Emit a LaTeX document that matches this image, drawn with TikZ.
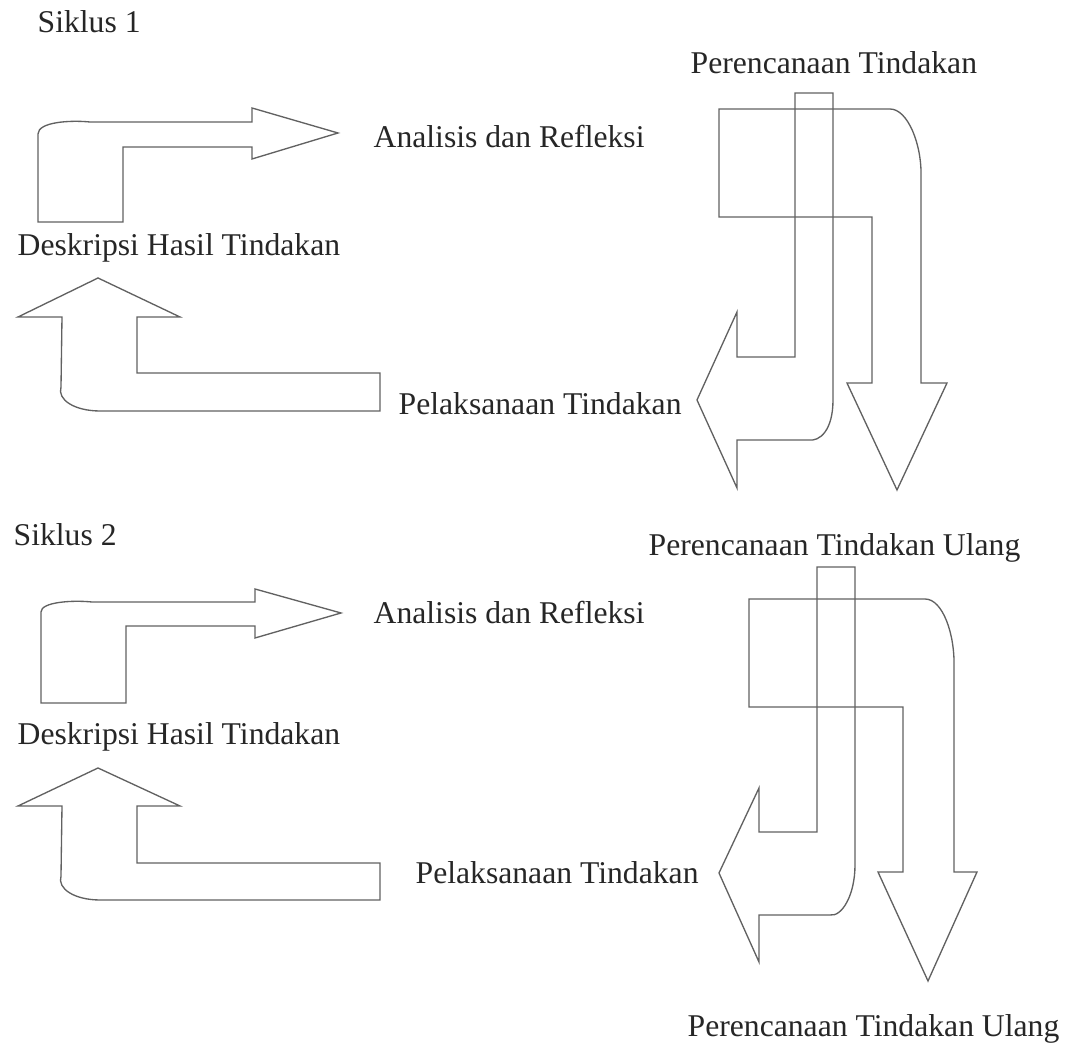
\documentclass[tikz,border=0pt]{standalone}
\usepackage{fontspec}
\setmainfont{Liberation Serif}
\usetikzlibrary{positioning}

\begin{document}
\begin{tikzpicture}[x=0.3pt,y=-0.3pt,
    blockarrow/.style={draw=black!62,line width=0.4pt,line join=miter},
    lbl/.style={inner sep=0pt,anchor=base west,text=black!85,font=\fontsize{9.5}{11}\selectfont}]
  \useasboundingbox (0,0) rectangle (1068,1043);
  % Siklus 1
  \node[lbl] (s1) at (37,33) {Siklus 1};
  \draw[blockarrow] (38,222) -- (38,134) .. controls (38,122) and (70,120) .. (90,122) -- (252,122)
      -- (252,108) -- (338,133) -- (252,159) -- (252,147) -- (123,147) -- (123,222) -- cycle;
  \node[lbl] (ar1) at (373,148) {Analisis dan Refleksi};
  \node[lbl] (dh1) at (17,256) {Deskripsi Hasil Tindakan};
  \draw[blockarrow] (98,278) -- (180,317) -- (137,317) -- (137,373) -- (380,373) -- (380,411) -- (100,411)
      .. controls (75,411) and (57,400) .. (61,387) -- (62,317) -- (18,317) -- cycle;
  \node[lbl] (pt1) at (398,415) {Pelaksanaan Tindakan};
  \node[lbl] (rt1) at (690,74) {Perencanaan Tindakan};
  \draw[blockarrow] (795,93) -- (833,93) -- (833,400) .. controls (833,430) and (820,442) .. (808,440)
      -- (737,440) -- (737,488) -- (697,400) -- (737,312) -- (737,357) -- (795,357) -- cycle;
  \draw[blockarrow] (719,109) -- (890,109) .. controls (908,109) and (922,145) .. (921,177) -- (921,383)
      -- (947,383) -- (897,490) -- (847,383) -- (872,383) -- (872,217) -- (719,217) -- cycle;
  % Siklus 2
  \node[lbl] (s2) at (13,546) {Siklus 2};
  \draw[blockarrow] (41,703) -- (41,612) .. controls (41,602) and (72,600) .. (92,602) -- (255,602)
      -- (255,589) -- (341,613) -- (255,638) -- (255,626) -- (126,626) -- (126,703) -- cycle;
  \node[lbl] (ar2) at (373,624) {Analisis dan Refleksi};
  \node[lbl] (dh2) at (17,745) {Deskripsi Hasil Tindakan};
  \draw[blockarrow] (98,768) -- (180,806) -- (137,806) -- (137,863) -- (380,863) -- (380,900) -- (100,900)
      .. controls (75,900) and (57,889) .. (61,876) -- (62,806) -- (18,806) -- cycle;
  \node[lbl] (pt2) at (415,884) {Pelaksanaan Tindakan};
  \node[lbl] (ru2) at (648,556) {Perencanaan Tindakan Ulang};
  \draw[blockarrow] (817,567) -- (855,567) -- (855,865) .. controls (855,895) and (842,917) .. (830,915)
      -- (759,915) -- (759,962) -- (719,873) -- (759,788) -- (759,832) -- (817,832) -- cycle;
  \draw[blockarrow] (749,599) -- (925,599) .. controls (943,599) and (955,635) .. (954,667) -- (954,872)
      -- (977,872) -- (928,981) -- (878,872) -- (903,872) -- (903,707) -- (749,707) -- cycle;
  \node[lbl] (ru3) at (687,1037) {Perencanaan Tindakan Ulang};
\end{tikzpicture}
\end{document}
